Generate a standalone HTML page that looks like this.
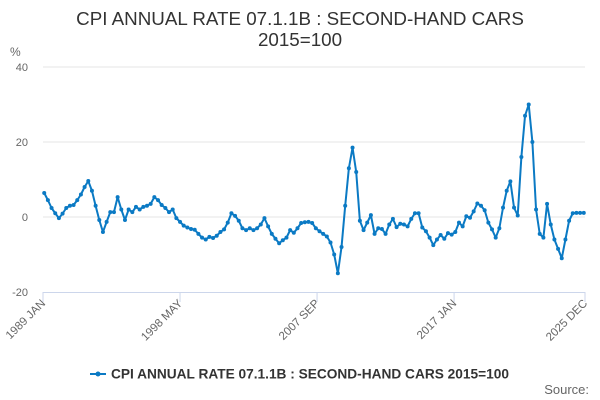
<!DOCTYPE html>
<html><head><meta charset="utf-8"><style>
body{margin:0;background:#fff;font-family:"Liberation Sans",sans-serif}
svg{display:block}
</style></head><body>
<svg id="chart" width="600" height="400">
<text x="300" y="25" text-anchor="middle" font-size="18.8" fill="#333">CPI ANNUAL RATE 07.1.1B : SECOND-HAND CARS</text>
<text x="300" y="46" text-anchor="middle" font-size="18.8" fill="#333">2015=100</text>
<text x="10" y="56" font-size="12" fill="#666">%</text>
<g id="grid"></g><g id="xaxis"></g><g id="series"></g>
<g>
<line x1="90" y1="374" x2="106" y2="374" stroke="#0b7ac4" stroke-width="2"/>
<circle cx="98" cy="374" r="2.5" fill="#0b7ac4"/>
<text x="111" y="378.5" font-size="13.7" font-weight="bold" fill="#333">CPI ANNUAL RATE 07.1.1B : SECOND-HAND CARS 2015=100</text>
</g>
<text x="589" y="394" text-anchor="end" font-size="13" fill="#666">Source:</text>
</svg>
<script>
const startYear = 1989;
const values = [6.4,4.5,2.4,1,-0.3,0.9,2.4,3,3.2,4.5,6,8,9.6,7,3,-0.8,-4,-1.3,1.3,1.3,5.3,2,-0.8,2,1.3,2.7,2,2.7,3,3.5,5.3,4.5,3.2,2.4,1.3,2,-0.3,-1.3,-2.3,-2.8,-3.2,-3.4,-4.5,-5.5,-6,-5.3,-5.6,-5,-4,-3.3,-1.5,1,0.3,-1,-3,-3.5,-3,-3.5,-3,-2,-0.3,-2.5,-4.5,-5.8,-7,-6.2,-5.5,-3.5,-4.2,-3,-1.6,-1.4,-1.3,-1.6,-3,-3.8,-4.5,-5.2,-6.8,-10,-15,-8,3,13,18.5,12,-1,-3.5,-1.5,0.5,-4.5,-3,-3.2,-4.5,-2,-0.5,-2.7,-1.8,-2,-2.5,-0.5,1,1,-2.8,-3.8,-5.5,-7.5,-6,-4.8,-5.8,-4.3,-4.7,-4,-1.5,-2.5,0.2,-0.2,1.5,3.6,3,1.8,-1.5,-3.3,-5.5,-3,2.5,7,9.5,2.5,0.4,16,27,30,20,2,-4.5,-5.5,3.5,-2,-6,-8.5,-11,-6,-1,1,1.1,1.1,1.1];
const yTicks = [40,20,0,-20];
const xTickLabels = ["1989 JAN","1998 MAY","2007 SEP","2017 JAN","2025 DEC"];
const xTickMonths = [0,112,224,336,443];

const NS="http://www.w3.org/2000/svg";
const X0=43,X1=585,TOTAL=443;
const xm=m=>X0+m*(X1-X0)/TOTAL;
const y=v=>217-v*3.75;
function mk(t,a,p){const e=document.createElementNS(NS,t);for(const k in a)e.setAttribute(k,a[k]);p.appendChild(e);return e;}
const grid=document.getElementById('grid');
yTicks.forEach(v=>{
  if(v!==-20){const l=mk('line',{x1:X0,x2:X1,y1:y(v),y2:y(v),stroke:'#e6e6e6'},grid);
  
  }
  const t=mk('text',{x:28,y:y(v)+4,'text-anchor':'end','font-size':11,fill:'#666'},grid);
  t.textContent=v;
  
  
});
const xa=document.getElementById('xaxis');
const ax=mk('line',{x1:X0,x2:X1,y1:292.5,y2:292.5,stroke:'#ccd6eb'},xa);


xTickMonths.forEach((m,i)=>{
  const x=xm(m);
  mk('line',{x1:x,x2:x,y1:292,y2:302,stroke:'#ccd6eb'},xa);
  const t=mk('text',{x:x+3,y:304,'text-anchor':'end','font-size':11.5,fill:'#666',transform:`rotate(-45 ${x+3} 304)`},xa);
  t.textContent=xTickLabels[i];
  
  
});
const s=document.getElementById('series');
const pts=values.map((v,i)=>[xm(i*3+1),y(v)]);
const pl=mk('polyline',{points:pts.map(p=>p.join(',')).join(' '),fill:'none',stroke:'#0b7ac4','stroke-width':2,'stroke-linejoin':'round'},s);


pts.forEach(p=>{
  const c=mk('circle',{cx:p[0],cy:p[1],r:2,fill:'#0b7ac4'},s);
  
  
});
</script>
</body></html>
